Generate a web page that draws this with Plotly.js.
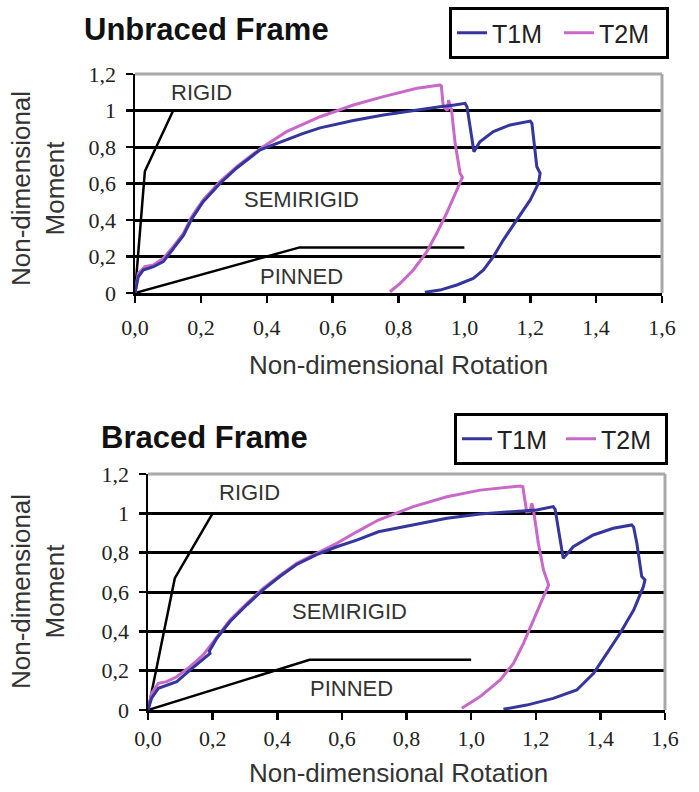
<!DOCTYPE html>
<html>
<head>
<meta charset="utf-8">
<script src="https://cdn.plot.ly/plotly-3.0.1.min.js"></script>
<style>html,body{margin:0;padding:0;background:#fff;}#chart{width:699px;height:792px;}</style>
</head>
<body>
<div id="chart"></div>
<script>
// Tick labels
const xTickVals = [0, 0.2, 0.4, 0.6, 0.8, 1.0, 1.2, 1.4, 1.6];
const xTickText = ['0,0', '0,2', '0,4', '0,6', '0,8', '1,0', '1,2', '1,4', '1,6'];
const yTickVals = [0, 0.2, 0.4, 0.6, 0.8, 1.0, 1.2];
const yTickText = ['0', '0,2', '0,4', '0,6', '0,8', '1', '1,2'];

const seriesNames = ['T1M', 'T2M'];

// Unbraced frame - boundary lines
const unbRigidX = [0, 0.03, 0.116];
const unbRigidY = [0, 0.667, 1.0];
const unbPinnedX = [0, 0.5, 1.0];
const unbPinnedY = [0, 0.25, 0.25];

// Unbraced frame - T1M
const unbT1MX = [0, 0.010, 0.025, 0.056, 0.086, 0.116, 0.147, 0.172, 0.207, 0.258, 0.309, 0.38, 0.43, 0.511, 0.562, 0.663, 0.754, 0.856, 0.926, 0.97, 1.002, 1.008, 1.029, 1.047, 1.088, 1.139, 1.2, 1.205, 1.22, 1.23, 1.225, 1.2, 1.159, 1.118, 1.088, 1.058, 1.027, 0.977, 0.926, 0.88];
const unbT1MY = [0, 0.089, 0.126, 0.144, 0.172, 0.24, 0.315, 0.405, 0.5, 0.6, 0.685, 0.785, 0.82, 0.875, 0.905, 0.945, 0.975, 1.003, 1.02, 1.03, 1.039, 1.02, 0.774, 0.829, 0.884, 0.921, 0.942, 0.93, 0.692, 0.656, 0.601, 0.51, 0.4, 0.29, 0.199, 0.126, 0.08, 0.044, 0.016, 0.004];

// Unbraced frame - T2M
const unbT2MX = [0, 0.010, 0.030, 0.056, 0.086, 0.116, 0.147, 0.172, 0.207, 0.258, 0.309, 0.38, 0.46, 0.562, 0.663, 0.754, 0.856, 0.926, 0.930, 0.936, 0.948, 0.952, 0.961, 0.972, 0.987, 0.994, 0.977, 0.946, 0.916, 0.886, 0.845, 0.805, 0.774];
const unbT2MY = [0, 0.108, 0.144, 0.153, 0.19, 0.254, 0.327, 0.418, 0.51, 0.61, 0.692, 0.79, 0.884, 0.966, 1.03, 1.076, 1.122, 1.14, 1.135, 1.02, 1.0, 1.057, 1.003, 0.82, 0.656, 0.634, 0.564, 0.437, 0.327, 0.226, 0.126, 0.053, 0.007];

// Braced frame - boundary lines
const brRigidX = [0, 0.083, 0.2];
const brRigidY = [0, 0.67, 1.0];
const brPinnedX = [0, 0.5, 1.0];
const brPinnedY = [0, 0.255, 0.255];

// Braced frame - T1M
const brT1MX = [0, 0.011, 0.032, 0.058, 0.089, 0.13, 0.17, 0.192, 0.19, 0.213, 0.254, 0.306, 0.357, 0.409, 0.46, 0.522, 0.584, 0.646, 0.713, 0.821, 0.925, 1.028, 1.152, 1.203, 1.254, 1.26, 1.285, 1.316, 1.378, 1.44, 1.497, 1.503, 1.513, 1.528, 1.538, 1.533, 1.503, 1.461, 1.42, 1.379, 1.327, 1.254, 1.172, 1.1];
const brT1MY = [0, 0.06, 0.11, 0.127, 0.144, 0.203, 0.26, 0.288, 0.30, 0.365, 0.45, 0.535, 0.612, 0.68, 0.74, 0.79, 0.83, 0.864, 0.906, 0.941, 0.975, 0.997, 1.009, 1.017, 1.034, 1.02, 0.771, 0.83, 0.89, 0.924, 0.941, 0.93, 0.847, 0.678, 0.661, 0.627, 0.508, 0.39, 0.288, 0.187, 0.102, 0.059, 0.025, 0.004];

// Braced frame - T2M
const brT2MX = [0, 0.011, 0.032, 0.058, 0.089, 0.13, 0.171, 0.213, 0.254, 0.306, 0.357, 0.409, 0.46, 0.522, 0.584, 0.646, 0.713, 0.821, 0.925, 1.028, 1.152, 1.160, 1.172, 1.182, 1.188, 1.193, 1.208, 1.224, 1.24, 1.224, 1.193, 1.162, 1.131, 1.09, 1.028, 0.971];
const brT2MY = [0, 0.085, 0.136, 0.144, 0.169, 0.22, 0.28, 0.373, 0.458, 0.542, 0.619, 0.686, 0.746, 0.797, 0.847, 0.906, 0.966, 1.034, 1.084, 1.118, 1.139, 1.135, 1.008, 1.01, 1.051, 1.017, 0.847, 0.712, 0.635, 0.576, 0.458, 0.339, 0.237, 0.153, 0.068, 0.009];

const BLUE = '#35359e';
const PINK = '#c868c8';
const SANS = 'Liberation Sans, Arial, sans-serif';
const SERIF = 'Liberation Serif, Times New Roman, serif';

function blackLine(x, y, xa, ya) {
  return {x: x, y: y, xaxis: xa, yaxis: ya, type: 'scatter', mode: 'lines',
    line: {color: '#000', width: 2.5}, showlegend: false, hoverinfo: 'skip'};
}
function curve(x, y, xa, ya, name, color, legend) {
  return {x: x, y: y, xaxis: xa, yaxis: ya, type: 'scatter', mode: 'lines', name: name,
    legend: legend, line: {color: color, width: 3}, showlegend: true};
}

const data = [
  blackLine(unbRigidX, unbRigidY, 'x', 'y'),
  blackLine(unbPinnedX, unbPinnedY, 'x', 'y'),
  curve(unbT2MX, unbT2MY, 'x', 'y', seriesNames[1], PINK, 'legend'),
  curve(unbT1MX, unbT1MY, 'x', 'y', seriesNames[0], BLUE, 'legend'),
  blackLine(brRigidX, brRigidY, 'x2', 'y2'),
  blackLine(brPinnedX, brPinnedY, 'x2', 'y2'),
  curve(brT2MX, brT2MY, 'x2', 'y2', seriesNames[1], PINK, 'legend2'),
  curve(brT1MX, brT1MY, 'x2', 'y2', seriesNames[0], BLUE, 'legend2')
];

function xAxis(domain, anchor, standoff) {
  return {domain: domain, anchor: anchor, range: [0, 1.6], tickmode: 'array',
    tickvals: xTickVals, ticktext: xTickText, ticks: 'outside', ticklen: 7, tickwidth: 2.5,
    tickcolor: '#000', showline: true, linecolor: '#000', linewidth: 2.5, showgrid: false,
    zeroline: false, tickfont: {family: SERIF, size: 22, color: '#222'},
    ticklabelstandoff: standoff, fixedrange: true, automargin: false};
}
function yAxis(domain, anchor) {
  return {domain: domain, anchor: anchor, range: [0, 1.2], tickmode: 'array',
    tickvals: yTickVals, ticktext: yTickText, ticks: 'outside', ticklen: 7, tickwidth: 2.5,
    tickcolor: '#000', showline: true, linecolor: '#000', linewidth: 2.5, showgrid: true,
    gridcolor: '#000', gridwidth: 3, zeroline: false,
    tickfont: {family: SERIF, size: 22, color: '#222'}, ticklabelstandoff: 5, fixedrange: true,
    automargin: false};
}

const W = 699, H = 792;
function px(v) { return v / W; }
function py(v) { return 1 - v / H; }

const labelFont = {family: SANS, size: 22, color: '#333'};
const axTitleFont = {family: SANS, size: 26, color: '#333'};

function borderShapes(xr, yr) {
  return [
    {type: 'line', xref: xr + ' domain', yref: yr + ' domain', x0: 0, x1: 1, y0: 1, y1: 1,
      line: {color: '#a8a8a8', width: 3}, layer: 'above'},
    {type: 'line', xref: xr + ' domain', yref: yr + ' domain', x0: 1, x1: 1, y0: 0, y1: 1,
      line: {color: '#a8a8a8', width: 3}, layer: 'above'}
  ];
}

function legendCfg(x, y, ew) {
  return {x: px(x), y: py(y), xanchor: 'left', yanchor: 'top', orientation: 'h',
    bordercolor: '#000', borderwidth: 3, bgcolor: '#fff', traceorder: 'reversed',
    entrywidth: ew, entrywidthmode: 'pixels', itemwidth: 30,
    font: {family: SANS, size: 25, color: '#222'}};
}

const layout = {
  width: W, height: H,
  margin: {l: 0, r: 0, t: 0, b: 0, autoexpand: false},
  paper_bgcolor: '#fff', plot_bgcolor: '#fff',
  xaxis: xAxis([px(135), px(662)], 'y', 6),
  yaxis: yAxis([1 - 293 / H, 1 - 74 / H], 'x'),
  xaxis2: xAxis([px(148), px(665)], 'y2', 0),
  yaxis2: yAxis([1 - 710 / H, 1 - 474 / H], 'x2'),
  legend: legendCfg(449, 7, 62),
  legend2: legendCfg(454, 413, 59),
  shapes: borderShapes('x', 'y').concat(borderShapes('x2', 'y2')),
  annotations: [
    {text: '<b>Unbraced Frame</b>', xref: 'paper', yref: 'paper', x: px(82), y: py(29),
      xanchor: 'left', yanchor: 'middle', showarrow: false, font: {family: SANS, size: 31, color: '#111'}},
    {text: '<b>Braced Frame</b>', xref: 'paper', yref: 'paper', x: px(99), y: py(437),
      xanchor: 'left', yanchor: 'middle', showarrow: false, font: {family: SANS, size: 31, color: '#111'}},
    {text: 'Non-dimensional<br>Moment', xref: 'paper', yref: 'paper', x: px(38), y: py(189),
      xanchor: 'center', yanchor: 'middle', textangle: -90, showarrow: false, font: axTitleFont},
    {text: 'Non-dimensional<br>Moment', xref: 'paper', yref: 'paper', x: px(38), y: py(592),
      xanchor: 'center', yanchor: 'middle', textangle: -90, showarrow: false, font: axTitleFont},
    {text: 'Non-dimensional Rotation', xref: 'paper', yref: 'paper', x: px(398), y: py(365),
      xanchor: 'center', yanchor: 'middle', showarrow: false, font: axTitleFont},
    {text: 'Non-dimensional Rotation', xref: 'paper', yref: 'paper', x: px(398), y: py(773),
      xanchor: 'center', yanchor: 'middle', showarrow: false, font: axTitleFont},
    {text: 'RIGID', xref: 'x', yref: 'y', x: 0.202, y: 1.096, showarrow: false, font: labelFont},
    {text: 'SEMIRIGID', xref: 'x', yref: 'y', x: 0.507, y: 0.51, showarrow: false, font: labelFont},
    {text: 'PINNED', xref: 'x', yref: 'y', x: 0.504, y: 0.093, showarrow: false, font: labelFont},
    {text: 'RIGID', xref: 'x2', yref: 'y2', x: 0.313, y: 1.108, showarrow: false, font: labelFont},
    {text: 'SEMIRIGID', xref: 'x2', yref: 'y2', x: 0.625, y: 0.503, showarrow: false, font: labelFont},
    {text: 'PINNED', xref: 'x2', yref: 'y2', x: 0.631, y: 0.107, showarrow: false, font: labelFont}
  ]
};

Plotly.newPlot('chart', data, layout, {displayModeBar: false, staticPlot: true});
</script>
</body>
</html>
